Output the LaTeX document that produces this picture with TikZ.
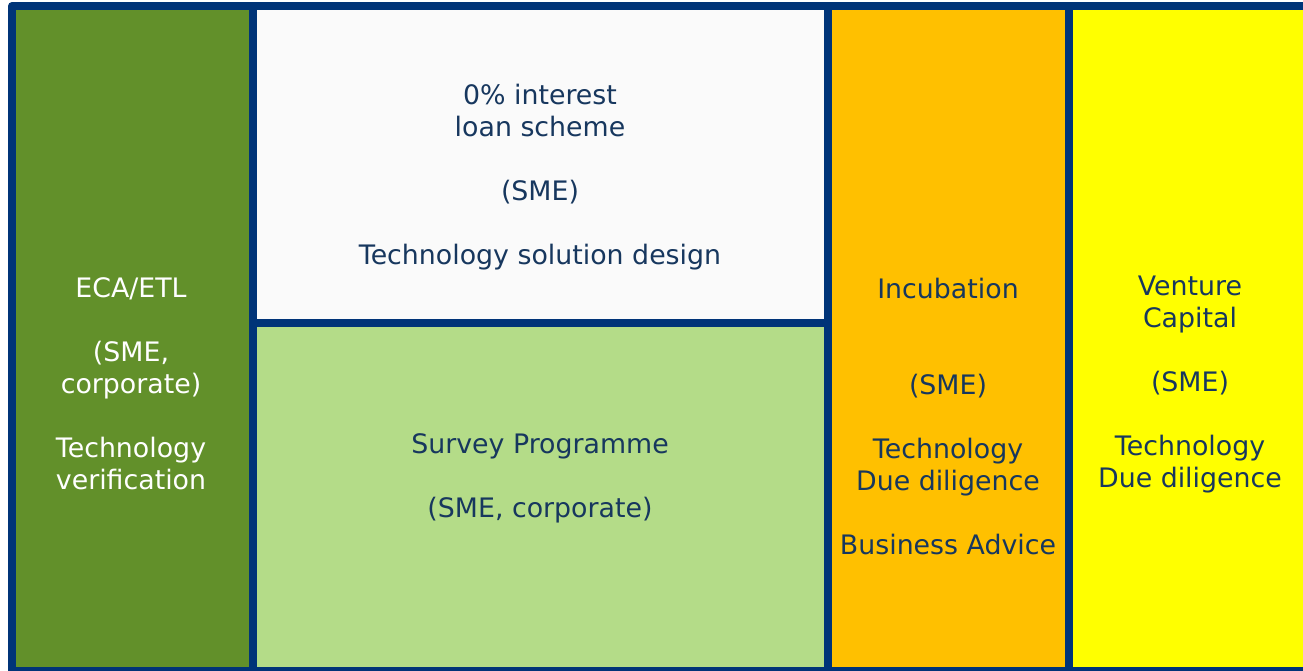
\documentclass[tikz,border=0pt]{standalone}
\usepackage{fontspec}
\setmainfont{DejaVu Sans}
\definecolor{frameblue}{RGB}{0,52,120}
\definecolor{textblue}{RGB}{23,55,94}
\definecolor{darkgreen}{RGB}{98,144,42}
\definecolor{lightgreen}{RGB}{180,220,136}
\definecolor{offwhite}{RGB}{250,250,250}
\definecolor{orangecell}{RGB}{255,192,0}
\definecolor{yellowcell}{RGB}{255,255,0}

\begin{document}
\begin{tikzpicture}[x=1pt,y=-1pt]

    \useasboundingbox (0,0) rectangle (1303,670);

    % Blue frame behind all cells %
    \fill[frameblue, rounded corners=4pt] (8,2) rectangle (1330,678);

    \begin{scope}
        \fill[darkgreen] (16,10) rectangle (249,667);
        \fill[offwhite] (257,10) rectangle (824,319);
        \fill[lightgreen] (257,327) rectangle (824,667);
        \fill[orangecell] (832,10) rectangle (1065,667);
        \fill[yellowcell] (1073,10) rectangle (1303,667);
    \end{scope}

    \begin{scope}[every node/.style={align=center,inner sep=0pt,text=textblue,font=\fontsize{26.8}{32}\selectfont}]
        \node[text=white] (eca) at (131,384) {ECA/ETL\\[32pt](SME,\\corporate)\\[32pt]Technology\\verification};
        \node (loan) at (540,177) {0\% interest\\loan scheme\\[32pt](SME)\\[32pt]Technology solution design};
        \node (survey) at (540,478) {Survey Programme\\[32pt](SME, corporate)};
        \node (incubation) at (948,416) {Incubation\\[64pt](SME)\\[32pt]Technology\\Due diligence\\[32pt]Business Advice}; % Two blank lines %
        \node (venture) at (1190,385) {Venture\\Capital\\[32pt](SME)\\[32pt]Technology\\Due diligence};
    \end{scope}

\end{tikzpicture}
\end{document}
